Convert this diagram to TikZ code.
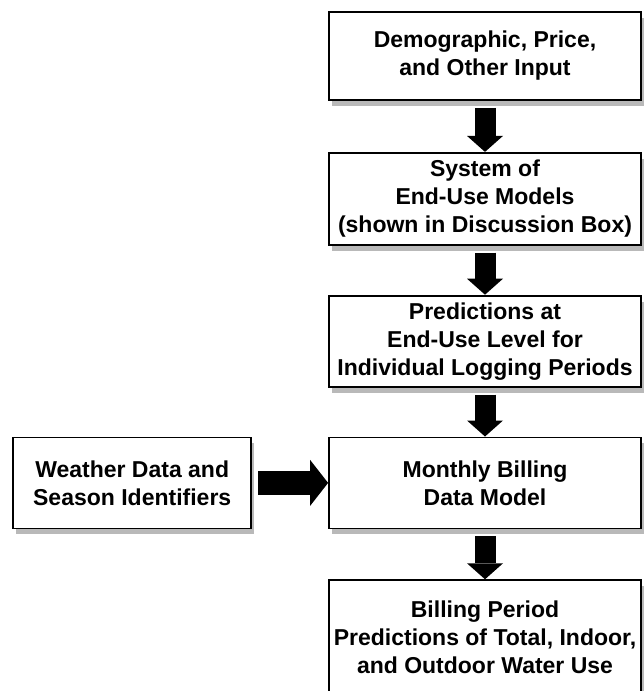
\documentclass[tikz,border=0pt]{standalone}
\usepackage{fontspec}
\setmainfont{Liberation Sans}
\usetikzlibrary{positioning, arrows.meta, shadows}

\tikzset{
  stage/.style={draw, line width=1.8pt, fill=white, minimum width=312pt,
    minimum height=91pt, align=center, inner sep=2pt,
    font=\bfseries\fontsize{23}{28}\selectfont,
    drop shadow={shadow xshift=3pt, shadow yshift=-6pt, fill=gray!55, opacity=1}},
  flow/.style={line width=21pt, shorten <=7pt,
    -{Triangle[length=16pt, width=36pt, line width=0pt]}},
  sideflow/.style={line width=24pt, shorten <=6pt,
    -{Triangle[length=18pt, width=46pt, line width=0pt]}},
}

\begin{document}
\begin{tikzpicture}[x=1pt, y=1pt]
\useasboundingbox (0,0) rectangle (644,-691);

%right column
\node[stage, minimum height=88pt] (input) at (485,-56) {Demographic, Price,\\and Other Input};
\node[stage, minimum height=92pt, below=51pt of input] (enduse) {System of\\End-Use Models\\(shown in Discussion Box)};
\node[stage, below=49pt of enduse] (predict) {Predictions at\\End-Use Level for\\Individual Logging Periods};
\node[stage, below=49pt of predict] (monthly) {Monthly Billing\\Data Model};
\node[stage, minimum height=114pt, below=50pt of monthly] (billing) {Billing Period\\Predictions of Total, Indoor,\\and Outdoor Water Use};

%weather input
\node[stage, minimum width=238pt, left=76pt of monthly] (weather) {Weather Data and\\Season Identifiers};

%arrows
\draw[flow] (input) -- (enduse);
\draw[flow] (enduse) -- (predict);
\draw[flow] (predict) -- (monthly);
\draw[flow] (monthly) -- (billing);
\draw[sideflow] (weather) -- (monthly);

\end{tikzpicture}
\end{document}
